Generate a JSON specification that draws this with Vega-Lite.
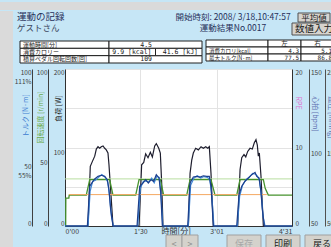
{
  "$schema": "https://vega.github.io/schema/vega-lite/v6.json",
  "background": "#c6e6f6",
  "padding": 0,
  "spacing": 0,
  "config": {
    "font": "Noto Sans CJK JP",
    "view": {"stroke": null},
    "axis": {"labelFont": "Noto Sans CJK JP", "titleFont": "Noto Sans CJK JP"}
  },
  "datasets": {
    "series": [
      {"s": "負荷", "t": 0, "v": 0}, {"s": "負荷", "t": 27.5, "v": 0}, {"s": "負荷", "t": 30.2, "v": 76}, {"s": "負荷", "t": 32.6, "v": 82}, {"s": "負荷", "t": 35.5, "v": 89}, {"s": "負荷", "t": 37.4, "v": 98}, {"s": "負荷", "t": 39.4, "v": 101}, {"s": "負荷", "t": 41.4, "v": 99}, {"s": "負荷", "t": 43.3, "v": 101}, {"s": "負荷", "t": 45.4, "v": 102}, {"s": "負荷", "t": 47.4, "v": 99}, {"s": "負荷", "t": 49.3, "v": 97}, {"s": "負荷", "t": 51.3, "v": 93}, {"s": "負荷", "t": 52.5, "v": 78}, {"s": "負荷", "t": 55.3, "v": 33}, {"s": "負荷", "t": 57.3, "v": 0},
      {"s": "負荷", "t": 88.4, "v": 0}, {"s": "負荷", "t": 91.5, "v": 78}, {"s": "負荷", "t": 94, "v": 81}, {"s": "負荷", "t": 96.3, "v": 92}, {"s": "負荷", "t": 99.1, "v": 87}, {"s": "負荷", "t": 101.9, "v": 94}, {"s": "負荷", "t": 104.3, "v": 88}, {"s": "負荷", "t": 107.1, "v": 102}, {"s": "負荷", "t": 109, "v": 105}, {"s": "負荷", "t": 111.9, "v": 99}, {"s": "負荷", "t": 113.8, "v": 93}, {"s": "負荷", "t": 115.4, "v": 55}, {"s": "負荷", "t": 117, "v": 0},
      {"s": "負荷", "t": 147.3, "v": 0}, {"s": "負荷", "t": 149.3, "v": 67}, {"s": "負荷", "t": 151.3, "v": 84}, {"s": "負荷", "t": 153.2, "v": 93}, {"s": "負荷", "t": 156, "v": 99}, {"s": "負荷", "t": 159.2, "v": 97}, {"s": "負荷", "t": 162.4, "v": 101}, {"s": "負荷", "t": 165.2, "v": 99}, {"s": "負荷", "t": 168, "v": 101}, {"s": "負荷", "t": 170.4, "v": 99}, {"s": "負荷", "t": 172.3, "v": 101}, {"s": "負荷", "t": 174.3, "v": 67}, {"s": "負荷", "t": 177.1, "v": 0},
      {"s": "負荷", "t": 206.2, "v": 0}, {"s": "負荷", "t": 209, "v": 72}, {"s": "負荷", "t": 211, "v": 87}, {"s": "負荷", "t": 213.7, "v": 91}, {"s": "負荷", "t": 215.8, "v": 88}, {"s": "負荷", "t": 218.1, "v": 95}, {"s": "負荷", "t": 220.9, "v": 99}, {"s": "負荷", "t": 223.6, "v": 98}, {"s": "負荷", "t": 226, "v": 106}, {"s": "負荷", "t": 228, "v": 110}, {"s": "負荷", "t": 229.6, "v": 103}, {"s": "負荷", "t": 230.8, "v": 89}, {"s": "負荷", "t": 232, "v": 93}, {"s": "負荷", "t": 234, "v": 63}, {"s": "負荷", "t": 236.8, "v": 0}, {"s": "負荷", "t": 271, "v": 0},

      {"s": "トルク左", "t": 0, "v": 0}, {"s": "トルク左", "t": 26.7, "v": 0}, {"s": "トルク左", "t": 29.5, "v": 25.3}, {"s": "トルク左", "t": 32.6, "v": 27.8}, {"s": "トルク左", "t": 35.5, "v": 30}, {"s": "トルク左", "t": 39.4, "v": 31.6}, {"s": "トルク左", "t": 43.3, "v": 32.3}, {"s": "トルク左", "t": 47.4, "v": 31.6}, {"s": "トルク左", "t": 50.5, "v": 29.5}, {"s": "トルク左", "t": 52.5, "v": 23.1}, {"s": "トルク左", "t": 54.5, "v": 10.4}, {"s": "トルク左", "t": 57.3, "v": 0},
      {"s": "トルク左", "t": 86, "v": 0}, {"s": "トルク左", "t": 89.2, "v": 25.3}, {"s": "トルク左", "t": 93.1, "v": 27.4}, {"s": "トルク左", "t": 96.3, "v": 29.5}, {"s": "トルク左", "t": 99.5, "v": 27.4}, {"s": "トルク左", "t": 102.7, "v": 29.5}, {"s": "トルク左", "t": 105.9, "v": 28.5}, {"s": "トルク左", "t": 109, "v": 32.7}, {"s": "トルク左", "t": 112.2, "v": 30.6}, {"s": "トルク左", "t": 114.2, "v": 22.1}, {"s": "トルク左", "t": 116.2, "v": 0},
      {"s": "トルク左", "t": 146.5, "v": 0}, {"s": "トルク左", "t": 149.3, "v": 27.4}, {"s": "トルク左", "t": 153.2, "v": 31.2}, {"s": "トルク左", "t": 157.2, "v": 31.6}, {"s": "トルク左", "t": 161.2, "v": 31.2}, {"s": "トルク左", "t": 165.2, "v": 32}, {"s": "トルク左", "t": 169.2, "v": 31.6}, {"s": "トルク左", "t": 172.3, "v": 31.6}, {"s": "トルク左", "t": 174.3, "v": 25.3}, {"s": "トルク左", "t": 177.1, "v": 0},
      {"s": "トルク左", "t": 205, "v": 0}, {"s": "トルク左", "t": 207.8, "v": 20}, {"s": "トルク左", "t": 211, "v": 25.3}, {"s": "トルク左", "t": 214.9, "v": 28.5}, {"s": "トルク左", "t": 218.9, "v": 30.6}, {"s": "トルク左", "t": 222.9, "v": 32.7}, {"s": "トルク左", "t": 226.9, "v": 34.2}, {"s": "トルク左", "t": 228.9, "v": 31.6}, {"s": "トルク左", "t": 231.6, "v": 30.6}, {"s": "トルク左", "t": 233.7, "v": 23.1}, {"s": "トルク左", "t": 235.6, "v": 10.4}, {"s": "トルク左", "t": 238, "v": 0}, {"s": "トルク左", "t": 271, "v": 0},

      {"s": "トルク右", "t": 0, "v": 0}, {"s": "トルク右", "t": 27.5, "v": 0}, {"s": "トルク右", "t": 30, "v": 22}, {"s": "トルク右", "t": 33, "v": 28.5}, {"s": "トルク右", "t": 36, "v": 29}, {"s": "トルク右", "t": 40, "v": 31}, {"s": "トルク右", "t": 44, "v": 32.8}, {"s": "トルク右", "t": 48, "v": 31}, {"s": "トルク右", "t": 51, "v": 28}, {"s": "トルク右", "t": 53, "v": 20}, {"s": "トルク右", "t": 55.5, "v": 6}, {"s": "トルク右", "t": 57.8, "v": 0},
      {"s": "トルク右", "t": 86.8, "v": 0}, {"s": "トルク右", "t": 90, "v": 24}, {"s": "トルク右", "t": 93.5, "v": 28.5}, {"s": "トルク右", "t": 97, "v": 28.5}, {"s": "トルク右", "t": 100, "v": 28}, {"s": "トルク右", "t": 103.5, "v": 30.5}, {"s": "トルク右", "t": 106.5, "v": 27.5}, {"s": "トルク右", "t": 109.5, "v": 31.5}, {"s": "トルク右", "t": 112.5, "v": 31}, {"s": "トルク右", "t": 114.8, "v": 18}, {"s": "トルク右", "t": 116.8, "v": 0},
      {"s": "トルク右", "t": 147.2, "v": 0}, {"s": "トルク右", "t": 150, "v": 26}, {"s": "トルク右", "t": 154, "v": 30.5}, {"s": "トルク右", "t": 158, "v": 32}, {"s": "トルク右", "t": 162, "v": 30.5}, {"s": "トルク右", "t": 166, "v": 31.5}, {"s": "トルク右", "t": 170, "v": 31}, {"s": "トルク右", "t": 172.8, "v": 29.5}, {"s": "トルク右", "t": 175, "v": 21}, {"s": "トルク右", "t": 177.8, "v": 0},
      {"s": "トルク右", "t": 205.8, "v": 0}, {"s": "トルク右", "t": 208.5, "v": 19}, {"s": "トルク右", "t": 212, "v": 26}, {"s": "トルク右", "t": 216, "v": 29.5}, {"s": "トルク右", "t": 220, "v": 31}, {"s": "トルク右", "t": 224, "v": 33.5}, {"s": "トルク右", "t": 227.5, "v": 33}, {"s": "トルク右", "t": 229.5, "v": 32}, {"s": "トルク右", "t": 232, "v": 29.5}, {"s": "トルク右", "t": 234.5, "v": 19}, {"s": "トルク右", "t": 236.5, "v": 6}, {"s": "トルク右", "t": 238.8, "v": 0}, {"s": "トルク右", "t": 271, "v": 0},

      {"s": "回転速度", "t": 0, "v": 0}, {"s": "回転速度", "t": 0.8, "v": 0}, {"s": "回転速度", "t": 1, "v": 17.8}, {"s": "回転速度", "t": 4.6, "v": 17.8}, {"s": "回転速度", "t": 5, "v": 19.7}, {"s": "回転速度", "t": 25.4, "v": 19.7}, {"s": "回転速度", "t": 29.5, "v": 29.5}, {"s": "回転速度", "t": 53.3, "v": 29.5}, {"s": "回転速度", "t": 57.3, "v": 19.7},
      {"s": "回転速度", "t": 84.4, "v": 19.7}, {"s": "回転速度", "t": 88.4, "v": 29.5}, {"s": "回転速度", "t": 113.8, "v": 29.5}, {"s": "回転速度", "t": 117.8, "v": 19.7},
      {"s": "回転速度", "t": 145.3, "v": 19.7}, {"s": "回転速度", "t": 149.3, "v": 29.5}, {"s": "回転速度", "t": 174.3, "v": 29.5}, {"s": "回転速度", "t": 179.1, "v": 19.7},
      {"s": "回転速度", "t": 205, "v": 19.7}, {"s": "回転速度", "t": 209, "v": 29.5}, {"s": "回転速度", "t": 236.8, "v": 29.5}, {"s": "回転速度", "t": 239, "v": 24}, {"s": "回転速度", "t": 242.7, "v": 19.7}, {"s": "回転速度", "t": 271, "v": 19.7},

      {"s": "上限", "t": 0, "v": 30}, {"s": "上限", "t": 271, "v": 30},
      {"s": "下限", "t": 4.8, "v": 20}, {"s": "下限", "t": 241, "v": 20}
    ]
  },
  "vconcat": [
    {
      "width": 331, "height": 8,
      "data": {"values": [{}]},
      "mark": {"type": "text", "text": ""},
      "view": {"fill": "#dadada", "stroke": null}
    },
    {
      "spacing": 0,
      "hconcat": [
        {
          "width": 13, "height": 239,
          "data": {"values": [{}]},
          "mark": {"type": "text", "text": ""},
          "view": {"fill": "#dadada", "stroke": null}
        },
        {
          "spacing": 0,
          "bounds": "flush",
          "vconcat": [
            {
              "width": 269, "height": 58,
              "view": {"stroke": null},
              "resolve": {"scale": {"x": "independent", "y": "independent"}},
              "layer": [
                {
                  "data": {"values": [
                    {"kind": "title", "col": "L", "row": "1", "text": "運動の記録"},
                    {"kind": "user", "col": "L", "row": "2", "text": "　　ゲストさん"},
                    {"kind": "time", "col": "M", "row": "1", "text": "開始時刻: 2008/ 3/18,10:47:57"},
                    {"kind": "no", "col": "M", "row": "2", "text": "運動結果No.0017"}
                  ]},
                  "encoding": {
                    "y": {"field": "row", "type": "nominal", "scale": {"type": "band", "domain": ["1", "2"], "range": [0, 22], "paddingInner": 0, "paddingOuter": 0}, "axis": null},
                    "text": {"field": "text"}
                  },
                  "layer": [
                    {
                      "transform": [{"filter": "datum.kind === 'title'"}],
                      "mark": {"type": "text", "align": "left", "baseline": "middle", "fontSize": 9.5, "color": "#27305a"},
                      "encoding": {"x": {"field": "col", "type": "nominal", "bandPosition": 0, "scale": {"type": "band", "domain": ["L", "M"], "range": [-48, 240], "paddingInner": 0, "paddingOuter": 0}, "axis": null}}
                    },
                    {
                      "transform": [{"filter": "datum.kind === 'user'"}],
                      "mark": {"type": "text", "align": "left", "baseline": "middle", "fontSize": 8.5, "color": "#3c4660"},
                      "encoding": {"x": {"field": "col", "type": "nominal", "bandPosition": 0, "scale": {"type": "band", "domain": ["L", "M"], "range": [-48, 240], "paddingInner": 0, "paddingOuter": 0}, "axis": null}}
                    },
                    {
                      "transform": [{"filter": "datum.kind === 'time' || datum.kind === 'no'"}],
                      "mark": {"type": "text", "align": "center", "baseline": "middle", "fontSize": 8.5, "color": "#27305a"},
                      "encoding": {"x": {"field": "col", "type": "nominal", "bandPosition": 0.5, "scale": {"type": "band", "domain": ["L", "M"], "range": [-48, 240], "paddingInner": 0, "paddingOuter": 0}, "axis": null}}
                    }
                  ]
                },
                {
                  "data": {"values": [{"b": "平均値"}]},
                  "encoding": {
                    "x": {"field": "b", "type": "nominal", "scale": {"type": "band", "domain": ["平均値"], "range": [233, 265], "paddingInner": 0, "paddingOuter": 0}, "axis": null},
                    "y": {"field": "b", "type": "nominal", "scale": {"type": "band", "domain": ["平均値"], "range": [2, 11], "paddingInner": 0, "paddingOuter": 0}, "axis": null}
                  },
                  "layer": [
                    {"mark": {"type": "rect", "fill": "#d6d3ce", "stroke": "#505050", "strokeWidth": 1}},
                    {"mark": {"type": "text", "fontSize": 8.5, "color": "#202020", "baseline": "middle"}, "encoding": {"text": {"field": "b"}}}
                  ]
                },
                {
                  "data": {"values": [{"b": "数値入力"}]},
                  "encoding": {
                    "x": {"field": "b", "type": "nominal", "scale": {"type": "band", "domain": ["数値入力"], "range": [227, 271], "paddingInner": 0, "paddingOuter": 0}, "axis": null},
                    "y": {"field": "b", "type": "nominal", "scale": {"type": "band", "domain": ["数値入力"], "range": [12, 24], "paddingInner": 0, "paddingOuter": 0}, "axis": null}
                  },
                  "layer": [
                    {"mark": {"type": "rect", "fill": "#d6d3ce", "stroke": "#505050", "strokeWidth": 1}},
                    {"mark": {"type": "text", "fontSize": 9.5, "color": "#202020", "baseline": "middle"}, "encoding": {"text": {"field": "b"}}}
                  ]
                },
                {
                  "data": {"values": [
                    {"col": "label", "row": "r1", "text": "運動時間[分]"},
                    {"col": "label", "row": "r2", "text": "消費カロリー"},
                    {"col": "label", "row": "r3", "text": "積算ペダル回転回数[回]"},
                    {"col": "value", "row": "r1", "text": "4.5"},
                    {"col": "kcal", "row": "r2", "text": "9.9 [kcal]"},
                    {"col": "kJ", "row": "r2", "text": "41.6 [kJ]"},
                    {"col": "value", "row": "r3", "text": "109"}
                  ]},
                  "encoding": {
                    "y": {"field": "row", "type": "nominal", "scale": {"type": "band", "domain": ["r1", "r2", "r3"], "range": [30, 52], "paddingInner": 0, "paddingOuter": 0}, "axis": null}
                  },
                  "resolve": {"scale": {"x": "independent"}},
                  "layer": [
                    {
                      "transform": [{"filter": "datum.col === 'label'"}],
                      "layer": [
                        {"mark": {"type": "rect", "fill": "#ffffff", "stroke": "#202020", "strokeWidth": 1},
                         "encoding": {"x": {"field": "col", "type": "nominal", "scale": {"type": "band", "domain": ["label"], "range": [-45, 44], "paddingInner": 0, "paddingOuter": 0}, "axis": null}}},
                        {"mark": {"type": "text", "align": "left", "baseline": "middle", "dx": 3, "fontSize": 6, "color": "#202020"},
                         "encoding": {"x": {"field": "col", "type": "nominal", "bandPosition": 0, "scale": {"type": "band", "domain": ["label"], "range": [-45, 44], "paddingInner": 0, "paddingOuter": 0}, "axis": null}, "text": {"field": "text"}}}
                      ]
                    },
                    {
                      "transform": [{"filter": "datum.col === 'value'"}],
                      "layer": [
                        {"mark": {"type": "rect", "fill": "#ffffff", "stroke": "#202020", "strokeWidth": 1},
                         "encoding": {"x": {"field": "col", "type": "nominal", "scale": {"type": "band", "domain": ["value"], "range": [44, 137], "paddingInner": 0, "paddingOuter": 0}, "axis": null}}},
                        {"mark": {"type": "text", "align": "right", "baseline": "middle", "dx": -50, "fontSize": 6.5, "font": "DejaVu Sans Mono", "color": "#202020"},
                         "encoding": {"x": {"field": "col", "type": "nominal", "bandPosition": 1, "scale": {"type": "band", "domain": ["value"], "range": [44, 137], "paddingInner": 0, "paddingOuter": 0}, "axis": null}, "text": {"field": "text"}}}
                      ]
                    },
                    {
                      "transform": [{"filter": "datum.col === 'kcal' || datum.col === 'kJ'"}],
                      "layer": [
                        {"mark": {"type": "rect", "fill": "#ffffff", "stroke": "#202020", "strokeWidth": 1},
                         "encoding": {"x": {"field": "col", "type": "nominal", "scale": {"type": "band", "domain": ["kcal", "kJ"], "range": [44, 137], "paddingInner": 0, "paddingOuter": 0}, "axis": null}}},
                        {"mark": {"type": "text", "align": "right", "baseline": "middle", "dx": -4, "fontSize": 6.5, "font": "DejaVu Sans Mono", "color": "#202020"},
                         "encoding": {"x": {"field": "col", "type": "nominal", "bandPosition": 1, "scale": {"type": "band", "domain": ["kcal", "kJ"], "range": [44, 137], "paddingInner": 0, "paddingOuter": 0}, "axis": null}, "text": {"field": "text"}}}
                      ]
                    }
                  ]
                },
                {
                  "data": {"values": [
                    {"col": "label", "row": "h", "text": ""},
                    {"col": "左", "row": "h", "text": "左"},
                    {"col": "右", "row": "h", "text": "右"},
                    {"col": "label", "row": "r1", "text": "消費カロリ[kcal]"},
                    {"col": "左", "row": "r1", "text": "4.3"},
                    {"col": "右", "row": "r1", "text": "5.1"},
                    {"col": "label", "row": "r2", "text": "最大トルク[N·m]"},
                    {"col": "左", "row": "r2", "text": "77.5"},
                    {"col": "右", "row": "r2", "text": "86.8"}
                  ]},
                  "encoding": {
                    "y": {"field": "row", "type": "nominal", "scale": {"type": "band", "domain": ["h", "r1", "r2"], "range": [29, 50], "paddingInner": 0, "paddingOuter": 0}, "axis": null}
                  },
                  "resolve": {"scale": {"x": "independent"}},
                  "layer": [
                    {
                      "transform": [{"filter": "datum.col === 'label'"}],
                      "layer": [
                        {"mark": {"type": "rect", "fill": "#ffffff", "stroke": "#202020", "strokeWidth": 1},
                         "encoding": {"x": {"field": "col", "type": "nominal", "scale": {"type": "band", "domain": ["label"], "range": [141, 203], "paddingInner": 0, "paddingOuter": 0}, "axis": null}}},
                        {"mark": {"type": "text", "align": "left", "baseline": "middle", "dx": 3, "fontSize": 5.5, "color": "#202020"},
                         "encoding": {"x": {"field": "col", "type": "nominal", "bandPosition": 0, "scale": {"type": "band", "domain": ["label"], "range": [141, 203], "paddingInner": 0, "paddingOuter": 0}, "axis": null}, "text": {"field": "text"}}}
                      ]
                    },
                    {
                      "transform": [{"filter": "datum.col !== 'label'"}],
                      "layer": [
                        {"mark": {"type": "rect", "fill": "#ffffff", "stroke": "#202020", "strokeWidth": 1},
                         "encoding": {"x": {"field": "col", "type": "nominal", "scale": {"type": "band", "domain": ["左", "右"], "range": [203, 269], "paddingInner": 0, "paddingOuter": 0}, "axis": null}}},
                        {"transform": [{"filter": "datum.row === 'h'"}],
                         "mark": {"type": "text", "align": "center", "baseline": "middle", "fontSize": 6.5, "color": "#202020"},
                         "encoding": {"x": {"field": "col", "type": "nominal", "bandPosition": 0.5, "scale": {"type": "band", "domain": ["左", "右"], "range": [203, 269], "paddingInner": 0, "paddingOuter": 0}, "axis": null}, "text": {"field": "text"}}},
                        {"transform": [{"filter": "datum.row !== 'h'"}],
                         "mark": {"type": "text", "align": "right", "baseline": "middle", "dx": -2, "fontSize": 6, "font": "DejaVu Sans Mono", "color": "#202020"},
                         "encoding": {"x": {"field": "col", "type": "nominal", "bandPosition": 1, "scale": {"type": "band", "domain": ["左", "右"], "range": [203, 269], "paddingInner": 0, "paddingOuter": 0}, "axis": null}, "text": {"field": "text"}}}
                      ]
                    }
                  ]
                }
              ]
            },
            {
              "width": 227, "height": 157,
              "view": {"fill": "#ffffff", "stroke": "#9db3c3"},
              "data": {"name": "series"},
              "resolve": {"scale": {"y": "independent"}},
              "encoding": {
                "x": {
                  "field": "t", "type": "quantitative",
                  "scale": {"domain": [0, 271], "nice": false, "zero": false},
                  "axis": {
                    "values": [0, 90, 181, 271],
                    "labelExpr": "datum.value == 0 ? \"0'00\" : datum.value == 90 ? \"1'30\" : datum.value == 181 ? \"3'01\" : \"4'31\"",
                    "labelFlush": true, "labelOverlap": false, "labelFontSize": 7, "labelColor": "#404040", "labelPadding": 1.5,
                    "ticks": false, "domain": true, "domainColor": "#303030",
                    "grid": true, "gridColor": "#e3e3e3",
                    "title": "時間[分]", "titleFontSize": 8, "titleFontWeight": "normal", "titleColor": "#303030",
                    "titleX": 96, "titleY": 1.5, "titleAlign": "left", "titleBaseline": "top"
                  }
                }
              },
              "layer": [
                {
                  "transform": [{"filter": "datum.s === '負荷'"}],
                  "mark": {"type": "line", "color": "#1e1e2e", "strokeWidth": 1.2},
                  "encoding": {
                    "y": {
                      "field": "v", "type": "quantitative",
                      "scale": {"domain": [0, 200], "nice": false},
                      "axis": {
                        "orient": "left", "offset": 0,
                        "values": [0, 50, 100, 150, 200],
                        "labelExpr": "datum.value == 200 ? '200' : datum.value == 100 ? '100' : datum.value == 0 ? '0' : ''",
                        "labelFlush": true, "labelOverlap": false, "labelFontSize": 6.5, "labelColor": "#404040", "labelPadding": 1,
                        "labelOffset": {"condition": {"test": "datum.value == 100", "value": 5}, "value": 0},
                        "ticks": false, "domainColor": "#303030",
                        "grid": true, "gridColor": "#e3e3e3",
                        "title": "負荷 [W]", "titleFontSize": 7, "titleFontWeight": "normal", "titleColor": "#202020",
                        "titleAngle": 270, "titleX": -7, "titleY": 39, "titleAlign": "center", "titleBaseline": "middle"
                      }
                    }
                  }
                },
                {
                  "encoding": {
                    "y": {
                      "field": "v", "type": "quantitative",
                      "scale": {"domain": [0, 100], "nice": false},
                      "axis": {
                        "orient": "left", "offset": 17,
                        "values": [0, 50, 100],
                        "labelFlush": true, "labelOverlap": false, "labelFontSize": 6.5, "labelColor": "#404040", "labelPadding": 1,
                        "labelOffset": {"condition": {"test": "datum.value == 50", "value": 15}, "value": 0},
                        "ticks": false, "domainColor": "#404040", "grid": false,
                        "title": "回転速度 [r/min]", "titleFontSize": 7, "titleFontWeight": "normal", "titleColor": "#6aaa4a",
                        "titleAngle": 270, "titleX": -8, "titleY": 48, "titleAlign": "center", "titleBaseline": "middle"
                      }
                    }
                  },
                  "layer": [
                    {"transform": [{"filter": "datum.s === '上限'"}], "mark": {"type": "line", "color": "#b8dea0", "strokeWidth": 1}, "encoding": {}},
                    {"transform": [{"filter": "datum.s === '回転速度'"}], "mark": {"type": "line", "color": "#46922e", "strokeWidth": 1.3}, "encoding": {}},
                    {"transform": [{"filter": "datum.s === '下限'"}], "mark": {"type": "line", "color": "#f4a862", "strokeWidth": 1}, "encoding": {}}
                  ]
                },
                {
                  "encoding": {
                    "y": {
                      "field": "v", "type": "quantitative",
                      "scale": {"domain": [0, 100], "nice": false},
                      "axis": {
                        "orient": "left", "offset": 33,
                        "values": [0, 50, 100],
                        "labelExpr": "datum.value == 100 ? ['100', '111%'] : datum.value == 50 ? ['50', '55%'] : '0'",
                        "labelLineHeight": 9,
                        "labelFlush": true, "labelOverlap": false, "labelFontSize": 6.5, "labelColor": "#404040", "labelPadding": 1,
                        "labelOffset": {"condition": {"test": "datum.value == 50", "value": 19}, "value": 0},
                        "ticks": false, "domainColor": "#404040", "grid": false,
                        "title": "トルク [N·m]", "titleFontSize": 7, "titleFontWeight": "normal", "titleColor": "#3a7ad0",
                        "titleAngle": 270, "titleX": -7, "titleY": 46, "titleAlign": "center", "titleBaseline": "middle"
                      }
                    }
                  },
                  "layer": [
                    {"transform": [{"filter": "datum.s === 'トルク右'"}], "mark": {"type": "line", "color": "#3f88d8", "strokeWidth": 1.2}, "encoding": {}},
                    {"transform": [{"filter": "datum.s === 'トルク左'"}], "mark": {"type": "line", "color": "#1c3f8c", "strokeWidth": 1.2}, "encoding": {}}
                  ]
                },
                {
                  "data": {"values": [{"t": 0, "v": 0}]},
                  "mark": {"type": "text", "text": ""},
                  "encoding": {
                    "y": {
                      "field": "v", "type": "quantitative",
                      "scale": {"domain": [0, 20], "nice": false},
                      "axis": {
                        "orient": "right", "offset": 0,
                        "values": [0, 10, 20],
                        "labelFlush": true, "labelOverlap": false, "labelFontSize": 6.5, "labelColor": "#404040", "labelPadding": 3,
                        "ticks": false, "domainColor": "#303030", "grid": false,
                        "title": "RPE", "titleFontSize": 7, "titleFontWeight": "normal", "titleColor": "#e070d0",
                        "titleAngle": 90, "titleX": 5.5, "titleY": 33.5, "titleAlign": "center", "titleBaseline": "middle"
                      }
                    }
                  }
                },
                {
                  "data": {"values": [{"t": 0, "v": 50}]},
                  "mark": {"type": "text", "text": ""},
                  "encoding": {
                    "y": {
                      "field": "v", "type": "quantitative",
                      "scale": {"domain": [50, 150], "nice": false, "zero": false},
                      "axis": {
                        "orient": "right", "offset": 17,
                        "values": [50, 100, 150],
                        "labelFlush": true, "labelOverlap": false, "labelFontSize": 6.5, "labelColor": "#404040", "labelPadding": 1.5,
                        "labelOffset": {"condition": {"test": "datum.value == 100", "value": 6}, "value": 0},
                        "ticks": false, "domainColor": "#505050", "grid": false,
                        "title": "心拍 [bpm]", "titleFontSize": 7, "titleFontWeight": "normal", "titleColor": "#5f6fb0",
                        "titleAngle": 90, "titleX": 5.5, "titleY": 44.5, "titleAlign": "center", "titleBaseline": "middle"
                      }
                    }
                  }
                },
                {
                  "data": {"values": [{"t": 0, "v": 50}]},
                  "mark": {"type": "text", "text": ""},
                  "encoding": {
                    "y": {
                      "field": "v", "type": "quantitative",
                      "scale": {"domain": [50, 250], "nice": false, "zero": false},
                      "axis": {
                        "orient": "right", "offset": 33,
                        "values": [50, 150, 250],
                        "labelFlush": true, "labelOverlap": false, "labelFontSize": 6.5, "labelColor": "#404040", "labelPadding": 1.5,
                        "labelOffset": {"condition": {"test": "datum.value == 150", "value": 6}, "value": 0},
                        "ticks": false, "domainColor": "#505050", "grid": false,
                        "title": "血圧 [mmHg]", "titleFontSize": 7, "titleFontWeight": "normal", "titleColor": "#5f6fb0",
                        "titleAngle": 90, "titleX": 5.5, "titleY": 48, "titleAlign": "center", "titleBaseline": "middle"
                      }
                    }
                  }
                }
              ]
            },
            {
              "width": 269, "height": 24,
              "view": {"stroke": null},
              "resolve": {"scale": {"x": "independent", "color": "independent"}},
              "encoding": {
                "y": {"datum": "ボタン", "type": "nominal", "scale": {"type": "band", "domain": ["ボタン"], "range": [9, 26], "paddingInner": 0, "paddingOuter": 0}, "axis": null}
              },
              "layer": [
                {
                  "data": {"values": [{"b": "<"}, {"b": ">"}]},
                  "encoding": {
                    "x": {"field": "b", "type": "nominal", "scale": {"type": "band", "domain": ["<", ">"], "range": [101, 133], "paddingInner": 0, "paddingOuter": 0}, "axis": null}
                  },
                  "layer": [
                    {"mark": {"type": "rect", "fill": "#d4d2cc", "stroke": "#a0a0a0", "strokeWidth": 1}},
                    {"mark": {"type": "text", "fontSize": 9, "color": "#8a8a8a", "baseline": "middle"}, "encoding": {"text": {"field": "b"}}}
                  ]
                },
                {
                  "data": {"values": [{"b": "保存"}, {"b": "印刷"}, {"b": "戻る"}]},
                  "encoding": {
                    "x": {"field": "b", "type": "nominal", "scale": {"type": "band", "domain": ["保存", "印刷", "戻る"], "range": [162, 274], "paddingInner": 0.128, "paddingOuter": 0}, "axis": null}
                  },
                  "layer": [
                    {"mark": {"type": "rect", "fill": "#d4d2cc", "stroke": "#a0a0a0", "strokeWidth": 1}},
                    {"mark": {"type": "text", "fontSize": 9, "baseline": "middle"},
                     "encoding": {"text": {"field": "b"}, "color": {"field": "b", "type": "nominal", "scale": {"domain": ["保存", "印刷", "戻る"], "range": ["#a8a8a8", "#202020", "#202020"]}, "legend": null}}}
                  ]
                }
              ]
            }
          ]
        }
      ]
    }
  ]
}
